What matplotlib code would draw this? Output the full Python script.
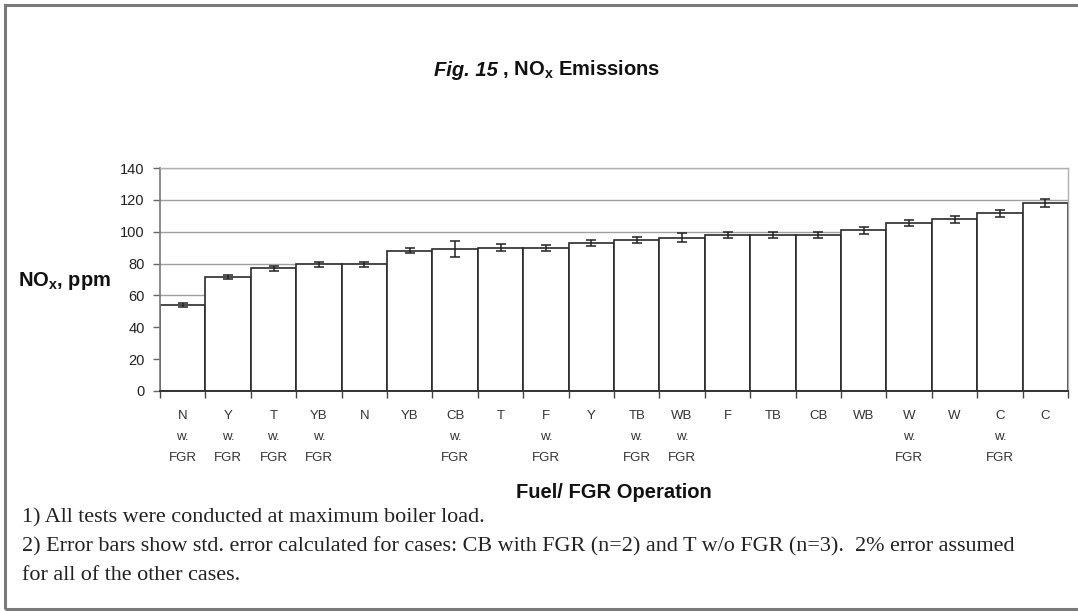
import matplotlib
matplotlib.use("Agg")
import matplotlib.pyplot as plt
import numpy as np
from matplotlib.patches import Rectangle

plt.rcParams["mathtext.fontset"] = "custom"
plt.rcParams["mathtext.rm"] = "Liberation Sans:bold"
plt.rcParams["mathtext.it"] = "Liberation Sans:italic:bold"
plt.rcParams["mathtext.bf"] = "Liberation Sans:bold"

categories = ["N\nw.\nFGR", "Y\nw.\nFGR", "T\nw.\nFGR", "YB\nw.\nFGR", "N", "YB",
              "CB\nw.\nFGR", "T", "F\nw.\nFGR", "Y", "TB\nw.\nFGR", "WB\nw.\nFGR",
              "F", "TB", "CB", "WB", "W\nw.\nFGR", "W", "C\nw.\nFGR", "C"]
values = [54, 71.5, 77, 79.6, 79.6, 88.2, 89.1, 90, 90, 93, 94.7, 96.2,
          98, 98, 98, 100.8, 105.4, 107.9, 111.7, 118]
errors = [1.1, 1.4, 1.5, 1.6, 1.6, 1.8, 5.0, 2.0, 1.8, 1.9, 1.9, 2.8,
          2.0, 2.0, 2.0, 2.0, 2.1, 2.2, 2.2, 2.4]
yticks = [0, 20, 40, 60, 80, 100, 120, 140]

W, H = 1078, 611
fig = plt.figure(figsize=(W / 100, H / 100), dpi=100)
fig.patch.set_facecolor("white")

# outer border
fig.add_artist(Rectangle((5 / W, 2 / H), 1.2, (609 - 5) / H, transform=fig.transFigure,
                         fill=False, edgecolor="#7a7a7a", lw=2.2))

ax = fig.add_axes([160 / W, (H - 391) / H, (1068 - 160) / W, (391 - 168) / H])
x = np.arange(len(values))
ax.set_axisbelow(True)
ax.yaxis.grid(True, color="#a0a0a0", lw=1.0)
ax.bar(x, values, width=1.0, color="white", edgecolor="#2a2a2a", lw=1.2, zorder=2)
ax.errorbar(x, values, yerr=errors, fmt="none", ecolor="#222222", elinewidth=1.1,
            capsize=3.5, capthick=1.1, zorder=3)

ax.set_xlim(-0.5, len(values) - 0.5)
ax.set_ylim(0, 140)
ax.set_yticks(yticks)
ax.set_yticklabels([str(v) for v in yticks], fontsize=10.5, family="Liberation Sans", color="#222222")
ax.set_xticks(x)
ax.set_xticklabels(categories, fontsize=9.5, family="Liberation Sans", color="#333333",
                   linespacing=1.95, va="top")
ax.tick_params(axis="x", which="major", length=0, pad=14)
ax.set_xticks(np.arange(-0.5, len(values), 1.0), minor=True)
ax.tick_params(axis="x", which="minor", length=5, color="#444444", width=1)
ax.tick_params(axis="y", length=5, color="#666666", width=1, pad=6)

for s in ["top", "right"]:
    ax.spines[s].set_color("#b0b0b0")
    ax.spines[s].set_linewidth(1.0)
ax.spines["left"].set_color("#777777")
ax.spines["left"].set_linewidth(1.2)
ax.spines["bottom"].set_color("#333333")
ax.spines["bottom"].set_linewidth(1.4)

# title in two parts: italic "Fig. 15" followed by " , NOx Emissions"
ty = 1 - 76 / H
t1 = fig.text(433 / W, ty, "Fig. 15", ha="left", va="baseline",
              fontsize=14.5, fontweight="bold", fontstyle="italic",
              family="Liberation Sans", color="#111111")
fig.canvas.draw()
r = fig.canvas.get_renderer()
bb1 = t1.get_window_extent(r)
t2 = fig.text(bb1.x1 / W, ty, r" , NO$_\mathregular{x}$ Emissions", ha="left",
              va="baseline", fontsize=14.5, fontweight="bold", family="Liberation Sans",
              color="#111111")
bb2 = t2.get_window_extent(r)
total = bb2.x1 - bb1.x0
shift = (547 - total / 2) - bb1.x0
t1.set_x((bb1.x0 + shift) / W)
t2.set_x((bb1.x1 + shift) / W)

fig.text(18 / W, 1 - 281 / H, r"NO$_\mathregular{x}$, ppm", ha="left", va="center",
         fontsize=14.5, fontweight="bold", family="Liberation Sans", color="#111111")
fig.text(614 / W, 1 - 493 / H, "Fuel/ FGR Operation", ha="center", va="center",
         fontsize=14.5, fontweight="bold", family="Liberation Sans", color="#111111")

notes = ["1) All tests were conducted at maximum boiler load.",
         "2) Error bars show std. error calculated for cases: CB with FGR (n=2) and T w/o FGR (n=3).  2% error assumed",
         "for all of the other cases."]
for i, line in enumerate(notes):
    fig.text(22 / W, 1 - (518 + i * 29) / H, line, ha="left", va="center",
             fontsize=15.9, family="Liberation Serif", color="#222222")

fig.savefig("out.png", dpi=100)
